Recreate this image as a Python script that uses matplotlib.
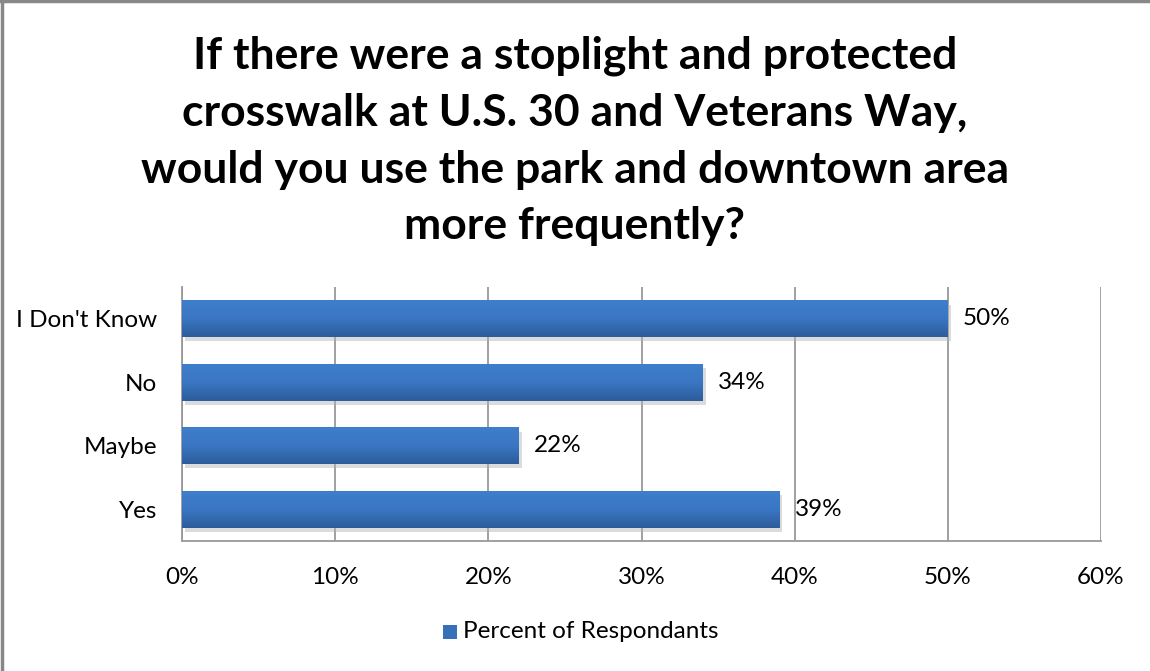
import matplotlib
matplotlib.use("Agg")
import matplotlib.pyplot as plt
import numpy as np
from matplotlib.colors import LinearSegmentedColormap
from matplotlib.patches import Rectangle
import matplotlib.patheffects as pe

categories = ["Yes", "Maybe", "No", "I Don't Know"]
values = [39, 22, 34, 50]
value_labels = ["39%", "22%", "34%", "50%"]
xticks = [0, 10, 20, 30, 40, 50, 60]
xtick_labels = ["0%", "10%", "20%", "30%", "40%", "50%", "60%"]
series_name = "Percent of Respondants"
title = ("If there were a stoplight and protected\n"
         "crosswalk at U.S. 30 and Veterans Way,\n"
         "would you use the park and downtown area\n"
         "more frequently?")

FONT = ["Lato", "DejaVu Sans"]
plt.rcParams['font.family'] = FONT
LFS = 17.5

fig = plt.figure(figsize=(11.5, 6.71), dpi=100)
ax = fig.add_axes([182/1150, (671-541)/671, (1101-182)/1150, (541-287)/671])

ypos = np.arange(len(categories))
bh = 0.58
cmap = LinearSegmentedColormap.from_list("g", ["#2d5c9b", "#3a76c3", "#3e7ecb"])
grad = np.linspace(0, 1, 64).reshape(-1, 1)

bars = ax.barh(ypos, values, height=bh, color="none", zorder=3)
for b in bars:
    x0, y0, w, h = b.get_x(), b.get_y(), b.get_width(), b.get_height()
    sh = Rectangle((x0, y0), w, h, facecolor="#000000", edgecolor="none", alpha=0.0, zorder=2,
                   path_effects=[pe.SimplePatchShadow(offset=(2, -3), shadow_rgbFace="#b0b0b0", alpha=0.45)])
    ax.add_patch(sh)
    im = ax.imshow(grad, cmap=cmap, aspect="auto", extent=(x0, x0 + w, y0, y0 + h),
                   origin="lower", zorder=3, interpolation="bilinear")
    clip = Rectangle((x0, y0), w, h, transform=ax.transData)
    im.set_clip_path(clip)

for y, v, lab in zip(ypos, values, value_labels):
    ax.text(v + 1.0, y, lab, va="center", ha="left", fontsize=LFS, color="#000000", zorder=4)

ax.set_xlim(0, 60)
ax.set_ylim(-0.5, len(categories) - 0.5)
ax.set_xticks(xticks)
ax.set_xticklabels(xtick_labels, fontsize=LFS)
ax.set_yticks(ypos)
ax.set_yticklabels(categories, fontsize=LFS)
ax.tick_params(axis="x", length=0, pad=19)
ax.tick_params(axis="y", length=0, pad=18)
ax.xaxis.grid(True, color="#999999", linewidth=1.3, zorder=0)
ax.set_axisbelow(True)
for s in ["top", "right"]:
    ax.spines[s].set_visible(False)
for s in ["left", "bottom"]:
    ax.spines[s].set_color("#999999")
    ax.spines[s].set_linewidth(1.3)

fig.text(0.5, (671-141)/671, title, ha="center", va="center", fontsize=32,
         fontweight="bold", linespacing=1.5)

# legend
fig.patches.append(Rectangle((443/1150, (671-639)/671), 14/1150, 14/671, transform=fig.transFigure,
                             facecolor="#3670b8", edgecolor="none"))
fig.text(463/1150, (671-632)/671, series_name, ha="left", va="center", fontsize=LFS)

# border
fig.add_artist(plt.Line2D([1.5/1150, 1.5/1150], [0, 1], color="#888888", linewidth=2.5))
fig.add_artist(plt.Line2D([0, 1], [1 - 1.2/671, 1 - 1.2/671], color="#888888", linewidth=2.5))

fig.savefig("out.png", dpi=100)
